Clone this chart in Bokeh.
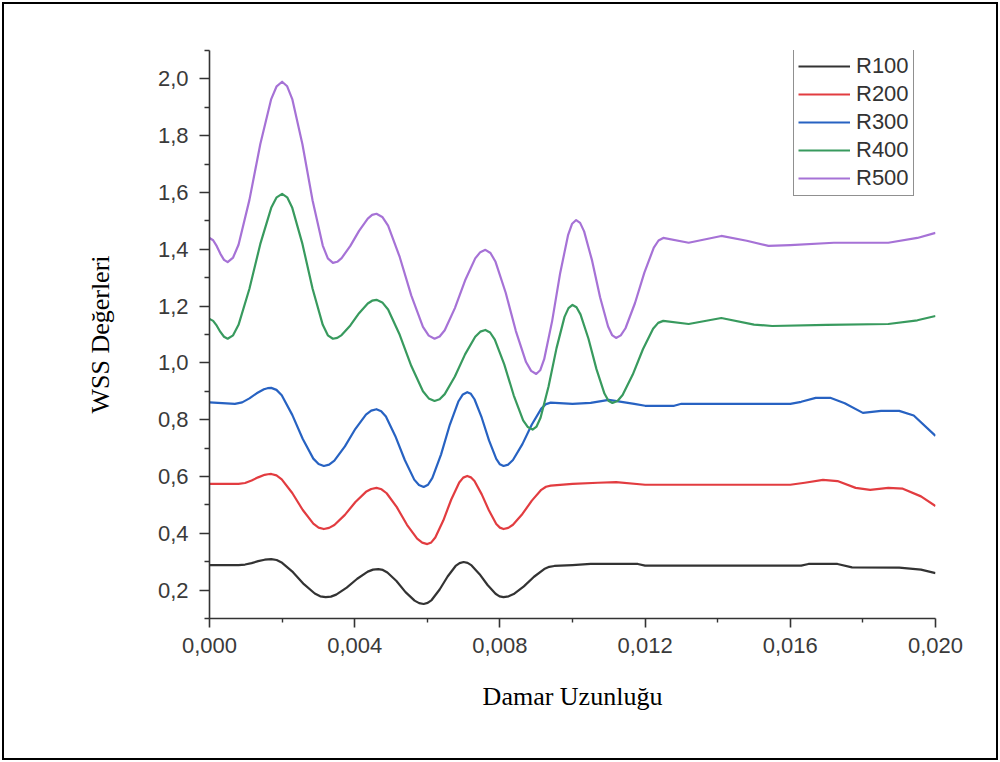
from bokeh.plotting import figure
from bokeh.models import Range1d, FixedTicker, Legend, LegendItem
from bokeh.embed import file_html
from bokeh.resources import INLINE

# ---------------- data ----------------
series_names = ["R100", "R200", "R300", "R400", "R500"]
series_colors = ["#333333", "#e23c40", "#2762c2", "#389a5e", "#a672d6"]

x_r100 = [0.0, 0.0008, 0.00098, 0.00116, 0.00134, 0.00152, 0.0017, 0.00185, 0.0020, 0.0023,
          0.0026, 0.0029, 0.00305, 0.0032, 0.003345, 0.00349, 0.00378, 0.00407, 0.00436, 0.004505,
          0.00465, 0.004775, 0.0049, 0.00515, 0.0054, 0.00565, 0.005775, 0.0059, 0.00601, 0.00612,
          0.00634, 0.00656, 0.00678, 0.00689, 0.0070, 0.00711, 0.00722, 0.00744, 0.00766, 0.00788,
          0.00799, 0.0081, 0.00824, 0.00838, 0.00866, 0.00894, 0.00922, 0.00936, 0.0095, 0.0100,
          0.0105, 0.0118, 0.0120, 0.0163, 0.0165, 0.0173, 0.0177, 0.0190, 0.0196, 0.0200]
y_r100 = [0.288, 0.288, 0.290, 0.295, 0.302, 0.307, 0.309, 0.306, 0.296, 0.263,
          0.221, 0.188, 0.178, 0.175, 0.177, 0.184, 0.209, 0.240, 0.265, 0.272,
          0.274, 0.271, 0.262, 0.232, 0.193, 0.163, 0.154, 0.151, 0.155, 0.165,
          0.202, 0.248, 0.285, 0.295, 0.299, 0.296, 0.287, 0.256, 0.218, 0.187,
          0.178, 0.175, 0.178, 0.186, 0.213, 0.247, 0.274, 0.282, 0.285, 0.288,
          0.292, 0.292, 0.286, 0.286, 0.292, 0.292, 0.280, 0.279, 0.272, 0.260]

x_r200 = [0.0, 0.0008, 0.00098, 0.00116, 0.00134, 0.00152, 0.00161, 0.0017, 0.001845, 0.00199,
          0.00228, 0.00257, 0.00286, 0.003005, 0.00315, 0.003295, 0.00344, 0.00373, 0.00402, 0.00431,
          0.004455, 0.0046, 0.00474, 0.00488, 0.00516, 0.00544, 0.00572, 0.00586, 0.0060, 0.00611,
          0.00622, 0.00644, 0.00666, 0.00688, 0.00699, 0.0071, 0.0072, 0.0073, 0.0075, 0.0077,
          0.0079, 0.0080, 0.0081, 0.00823, 0.00836, 0.00862, 0.00888, 0.00914, 0.00927, 0.0094,
          0.0100, 0.0107, 0.0112, 0.0120, 0.0160, 0.0164, 0.0169, 0.0173, 0.0178, 0.0182,
          0.0187, 0.0191, 0.0196, 0.0200]
y_r200 = [0.574, 0.574, 0.577, 0.586, 0.597, 0.606, 0.608, 0.609, 0.604, 0.590,
          0.542, 0.482, 0.434, 0.420, 0.415, 0.419, 0.429, 0.465, 0.510, 0.546,
          0.556, 0.560, 0.555, 0.541, 0.492, 0.430, 0.381, 0.367, 0.362, 0.368,
          0.385, 0.445, 0.519, 0.579, 0.596, 0.602, 0.597, 0.584, 0.537, 0.480,
          0.433, 0.420, 0.415, 0.419, 0.430, 0.468, 0.515, 0.553, 0.564, 0.568,
          0.574, 0.578, 0.580, 0.571, 0.571, 0.578, 0.588, 0.584, 0.560, 0.553,
          0.560, 0.557, 0.530, 0.496]

x_r300 = [0.0, 0.0007, 0.0009, 0.0011, 0.0013, 0.0015, 0.0016, 0.0017, 0.001845, 0.00199,
          0.00228, 0.00257, 0.00286, 0.003005, 0.00315, 0.003295, 0.00344, 0.00373, 0.00402, 0.00431,
          0.004455, 0.0046, 0.00473, 0.00486, 0.00512, 0.00538, 0.00564, 0.00577, 0.0059, 0.00602,
          0.00614, 0.00638, 0.00662, 0.00686, 0.00698, 0.0071, 0.0072, 0.0073, 0.0075, 0.0077,
          0.0079, 0.0080, 0.0081, 0.00823, 0.00836, 0.00862, 0.00888, 0.00914, 0.00927, 0.0094,
          0.0100, 0.0105, 0.0110, 0.0117, 0.0120, 0.0128, 0.0130, 0.0160, 0.0163, 0.0167,
          0.0171, 0.0175, 0.0180, 0.0185, 0.0190, 0.0194, 0.0200]
y_r300 = [0.861, 0.856, 0.861, 0.875, 0.893, 0.907, 0.911, 0.912, 0.905, 0.886,
          0.817, 0.732, 0.663, 0.644, 0.637, 0.642, 0.656, 0.706, 0.768, 0.818,
          0.832, 0.837, 0.830, 0.811, 0.742, 0.658, 0.589, 0.570, 0.563, 0.571,
          0.595, 0.678, 0.782, 0.865, 0.889, 0.897, 0.891, 0.872, 0.807, 0.727,
          0.662, 0.643, 0.637, 0.642, 0.658, 0.714, 0.783, 0.839, 0.855, 0.860,
          0.856, 0.859, 0.870, 0.856, 0.849, 0.849, 0.856, 0.856, 0.863, 0.877,
          0.877, 0.858, 0.824, 0.831, 0.831, 0.815, 0.743]

x_r400 = [0.0, 0.0001, 0.0002, 0.0003, 0.0004, 0.0005, 0.00065, 0.0008, 0.0011, 0.0014,
          0.0017, 0.00185, 0.0020, 0.00214, 0.00228, 0.00256, 0.00284, 0.00312, 0.00326, 0.0034,
          0.00352, 0.00364, 0.00388, 0.00412, 0.00436, 0.00448, 0.0046, 0.00476, 0.00492, 0.00524,
          0.00556, 0.00588, 0.00604, 0.0062, 0.00634, 0.00648, 0.00676, 0.00704, 0.00732, 0.00746,
          0.0076, 0.00773, 0.00786, 0.00812, 0.00838, 0.00864, 0.00877, 0.0089, 0.00901, 0.00912,
          0.00934, 0.00956, 0.00978, 0.00989, 0.0100, 0.01011, 0.01022, 0.01044, 0.01066, 0.01088,
          0.01099, 0.0111, 0.01124, 0.01138, 0.01166, 0.01194, 0.01222, 0.01236, 0.0125, 0.0132,
          0.0141, 0.0150, 0.0155, 0.0170, 0.0187, 0.0195, 0.0200]
y_r400 = [1.155, 1.148, 1.131, 1.109, 1.092, 1.085, 1.097, 1.134, 1.261, 1.419,
          1.546, 1.583, 1.595, 1.583, 1.546, 1.419, 1.261, 1.134, 1.097, 1.085,
          1.088, 1.098, 1.132, 1.175, 1.209, 1.219, 1.222, 1.213, 1.188, 1.099,
          0.989, 0.900, 0.875, 0.866, 0.872, 0.890, 0.952, 1.030, 1.092, 1.110,
          1.116, 1.107, 1.082, 0.995, 0.886, 0.798, 0.774, 0.765, 0.776, 0.807,
          0.917, 1.052, 1.162, 1.193, 1.204, 1.196, 1.171, 1.085, 0.978, 0.892,
          0.867, 0.859, 0.866, 0.887, 0.959, 1.048, 1.120, 1.141, 1.148, 1.137,
          1.158, 1.135, 1.130, 1.134, 1.137, 1.150, 1.165]

x_r500 = [0.0, 0.0001, 0.0002, 0.0003, 0.0004, 0.0005, 0.00065, 0.0008, 0.0011, 0.0014,
          0.0017, 0.00185, 0.0020, 0.00214, 0.00228, 0.00256, 0.00284, 0.00312, 0.00326, 0.0034,
          0.00352, 0.00364, 0.00388, 0.00412, 0.00436, 0.00448, 0.0046, 0.00476, 0.00492, 0.00524,
          0.00556, 0.00588, 0.00604, 0.0062, 0.00634, 0.00648, 0.00676, 0.00704, 0.00732, 0.00746,
          0.0076, 0.00774, 0.00788, 0.00816, 0.00844, 0.00872, 0.00886, 0.0090, 0.00911, 0.00922,
          0.00944, 0.00966, 0.00988, 0.00999, 0.0101, 0.01021, 0.01032, 0.01054, 0.01076, 0.01098,
          0.01109, 0.0112, 0.01133, 0.01146, 0.01172, 0.01198, 0.01224, 0.01237, 0.0125, 0.0132,
          0.0141, 0.0148, 0.0154, 0.0160, 0.0172, 0.0187, 0.0195, 0.0200]
y_r500 = [1.440, 1.432, 1.411, 1.384, 1.363, 1.355, 1.371, 1.416, 1.574, 1.771,
          1.929, 1.974, 1.990, 1.974, 1.929, 1.770, 1.572, 1.413, 1.368, 1.352,
          1.356, 1.369, 1.412, 1.465, 1.508, 1.521, 1.525, 1.514, 1.483, 1.373,
          1.237, 1.127, 1.096, 1.085, 1.093, 1.115, 1.193, 1.290, 1.368, 1.390,
          1.398, 1.387, 1.356, 1.247, 1.112, 1.003, 0.972, 0.961, 0.974, 1.013,
          1.148, 1.316, 1.451, 1.490, 1.503, 1.493, 1.463, 1.360, 1.231, 1.128,
          1.098, 1.088, 1.097, 1.122, 1.210, 1.318, 1.406, 1.431, 1.440, 1.423,
          1.447, 1.430, 1.412, 1.415, 1.423, 1.423, 1.440, 1.458]

x_ticks = [0.0, 0.004, 0.008, 0.012, 0.016, 0.020]
x_tick_labels = ["0,000", "0,004", "0,008", "0,012", "0,016", "0,020"]
x_minor = [0.002, 0.006, 0.010, 0.014, 0.018]

y_ticks = [0.2, 0.4, 0.6, 0.8, 1.0, 1.2, 1.4, 1.6, 1.8, 2.0]
y_tick_labels = ["0,2", "0,4", "0,6", "0,8", "1,0", "1,2", "1,4", "1,6", "1,8", "2,0"]
y_minor = [0.1, 0.3, 0.5, 0.7, 0.9, 1.1, 1.3, 1.5, 1.7, 1.9, 2.1]

x_title = "Damar Uzunluğu"
y_title = "WSS Değerleri"

# ---------------- figure ----------------
p = figure(width=1000, height=762, output_backend="svg", toolbar_location=None,
           x_range=Range1d(0, 0.020), y_range=Range1d(0.1, 2.1),
           min_border_left=209, min_border_right=65, min_border_top=50, min_border_bottom=144)
p.outline_line_color = None
p.grid.visible = False
p.background_fill_color = "white"
# transparent outer area so the CSS frame drawn on the host element shows through
p.border_fill_color = None
p.styles = {"outline": "2px solid #000000", "outline-offset": "-4px",
            "background-color": "white"}

xs = [x_r100, x_r200, x_r300, x_r400, x_r500]
ys = [y_r100, y_r200, y_r300, y_r400, y_r500]
items = []
for name, color, xv, yv in zip(series_names, series_colors, xs, ys):
    r = p.line(xv, yv, line_color=color, line_width=2.2, line_join="round")
    items.append(LegendItem(label=name, renderers=[r]))

# axes
for ax in (p.xaxis[0], p.yaxis[0]):
    ax.axis_line_color = "#333333"
    ax.axis_line_width = 1.6
    ax.major_tick_line_color = "#333333"
    ax.major_tick_line_width = 1.6
    ax.minor_tick_line_color = "#333333"
    ax.minor_tick_line_width = 1.4
    ax.major_tick_in = 0
    ax.minor_tick_in = 0
    ax.major_label_text_font = "Liberation Sans"
    ax.major_label_text_font_size = "22px"
    ax.major_label_text_color = "#3a3a3a"
    ax.axis_label_text_font = "Liberation Serif"
    ax.axis_label_text_font_size = "26px"
    ax.axis_label_text_font_style = "normal"
    ax.axis_label_text_color = "#000000"

p.xaxis.ticker = FixedTicker(ticks=x_ticks, minor_ticks=x_minor)
p.xaxis.major_label_overrides = dict(zip(x_ticks, x_tick_labels))
p.xaxis.major_tick_out = 9
p.xaxis.minor_tick_out = 4
p.xaxis.major_label_standoff = 10
p.xaxis.axis_label = x_title
p.xaxis.axis_label_standoff = 26

p.yaxis.ticker = FixedTicker(ticks=y_ticks, minor_ticks=y_minor)
p.yaxis.major_label_overrides = dict(zip(y_ticks, y_tick_labels))
p.yaxis.major_tick_out = 10
p.yaxis.minor_tick_out = 5
p.yaxis.major_label_standoff = 11
p.yaxis.axis_label = y_title
p.yaxis.axis_label_standoff = 40

legend = Legend(items=items, location=(584, 422))
legend.border_line_color = "#222222"
legend.border_line_width = 1.5
legend.background_fill_color = "white"
legend.background_fill_alpha = 1.0
legend.label_text_font = "Liberation Sans"
legend.label_text_font_size = "22px"
legend.label_text_color = "#333333"
legend.label_height = 26
legend.glyph_height = 26
legend.glyph_width = 52
legend.label_standoff = 6
legend.spacing = 2
legend.padding = 4
legend.margin = 0
p.add_layout(legend)

open("out.html", "w").write(file_html(p, INLINE))
